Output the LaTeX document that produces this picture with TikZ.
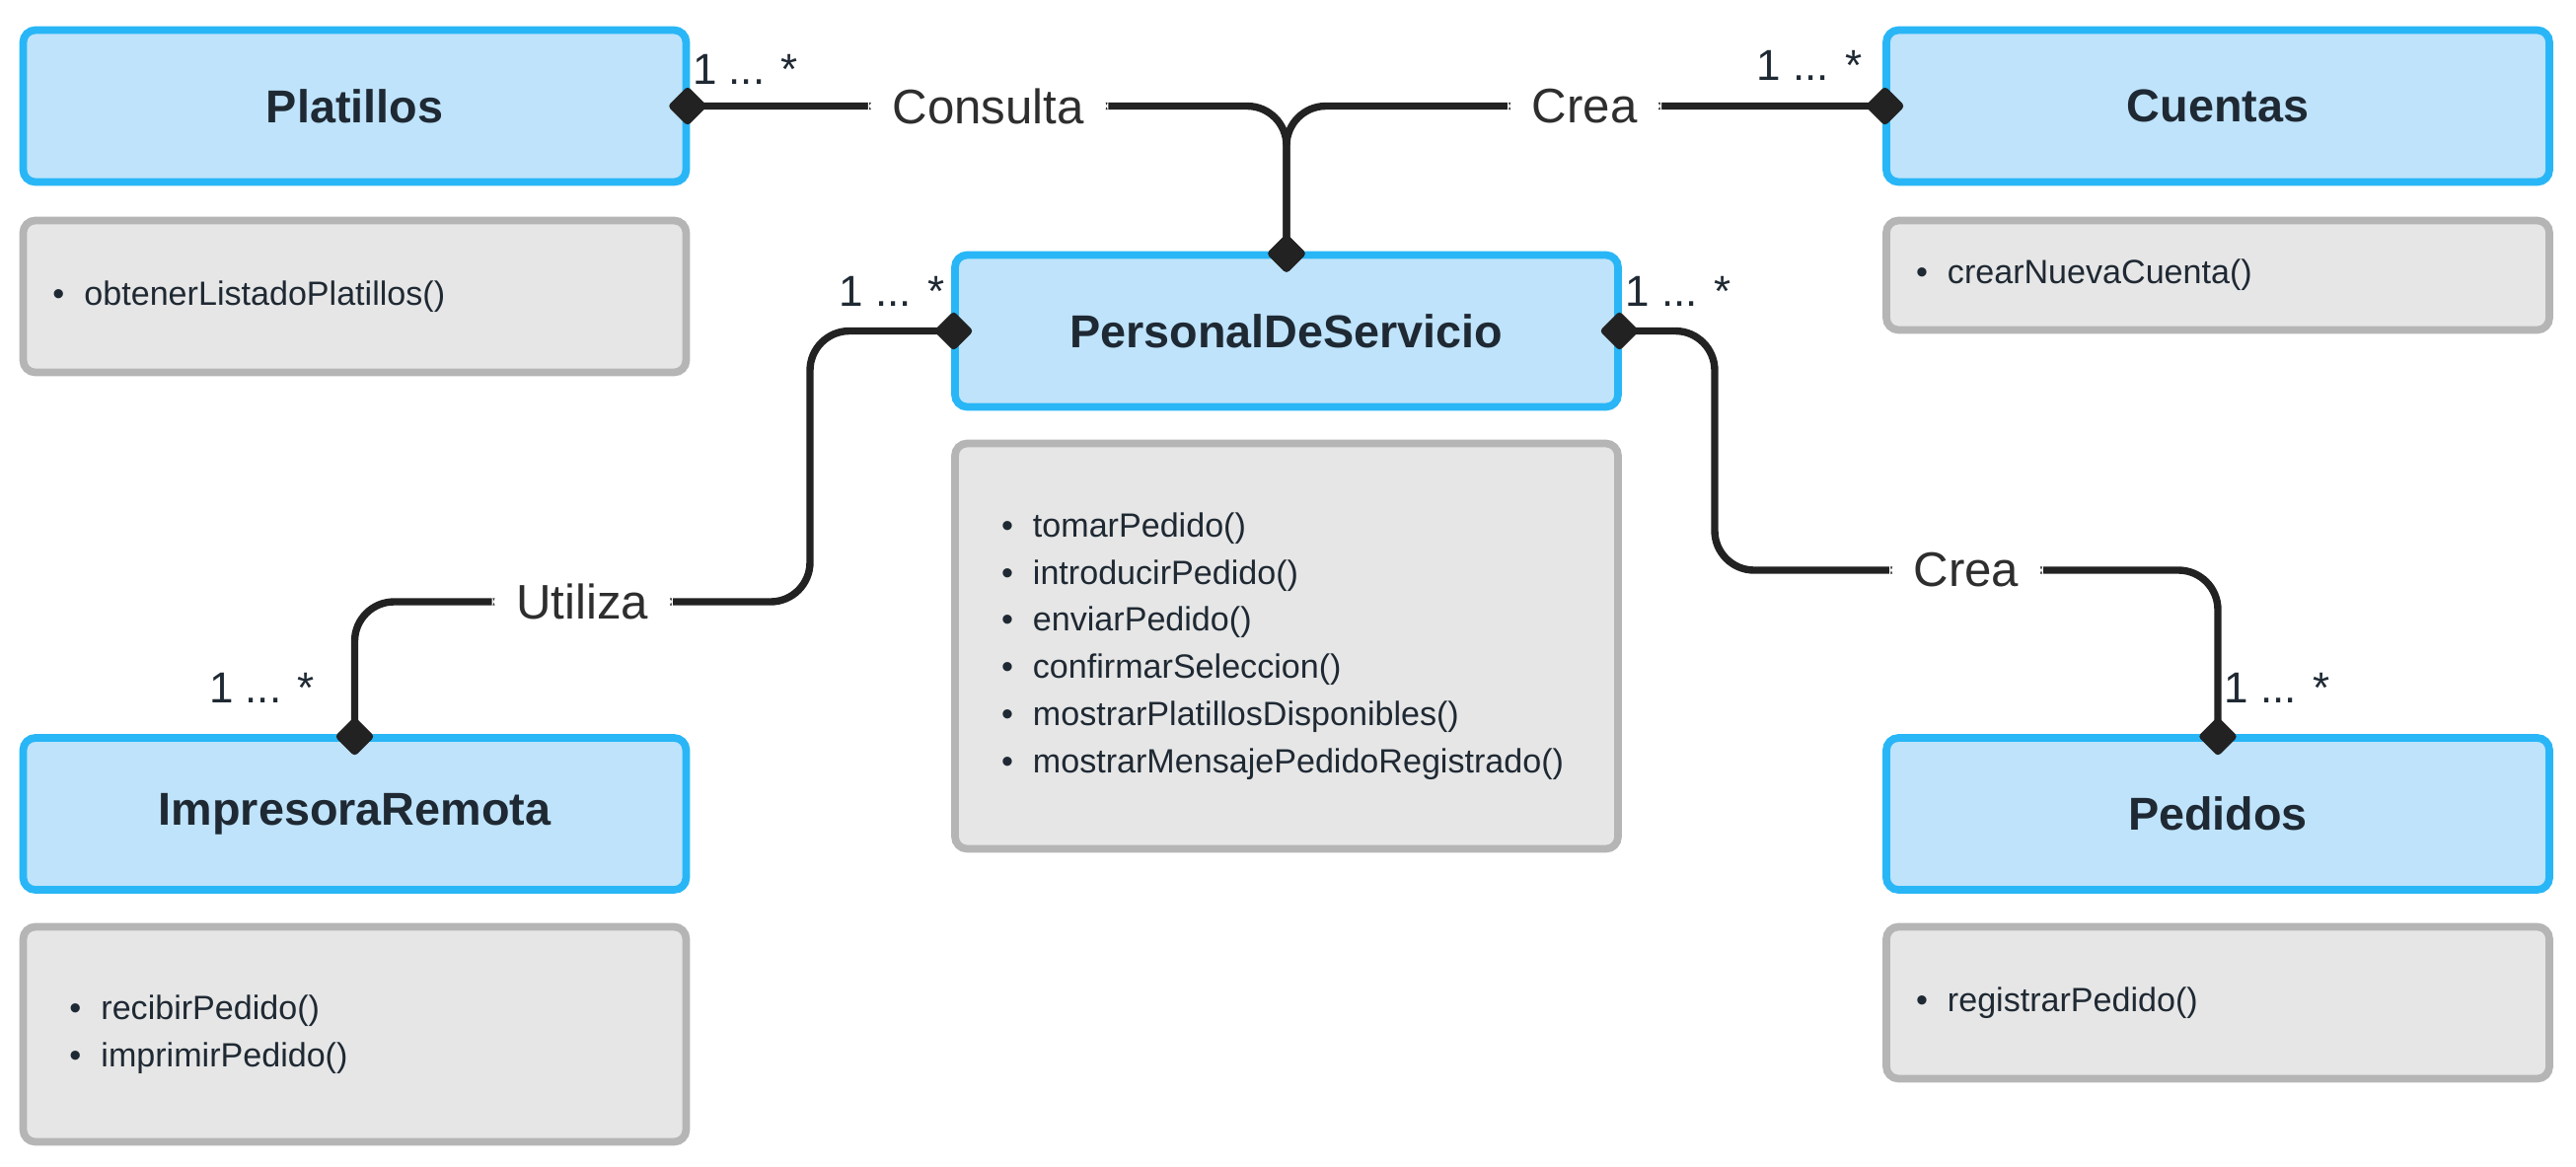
\documentclass[tikz,border=0pt]{standalone}
\usepackage{fontspec}
\setmainfont{Liberation Sans}
\usetikzlibrary{arrows.meta,positioning}

\definecolor{azulfondo}{HTML}{BEE3FB}
\definecolor{azulborde}{HTML}{29B6F6}
\definecolor{grisfondo}{HTML}{E6E6E6}
\definecolor{grisborde}{HTML}{B5B5B5}
\definecolor{tinta}{HTML}{1F2933}
\definecolor{linea}{HTML}{222222}
\definecolor{rotulo}{HTML}{2E2E2E}

\tikzset{
  clase/.style={draw=azulborde, fill=azulfondo, line width=2.2pt, rounded corners=3.5pt,
    minimum width=6.72cm, minimum height=1.54cm, text=tinta,
    font=\fontsize{13.3}{16}\selectfont\bfseries},
  metodos/.style={draw=grisborde, fill=grisfondo, line width=2.2pt, rounded corners=3.5pt,
    minimum width=6.72cm, inner xsep=0.30cm, text width=6.12cm, align=left,
    text=tinta, font=\fontsize{9.7}{13.6}\selectfont},
  varios/.style={inner xsep=0.47cm, text width=5.78cm},
  relacion/.style={draw=linea, line width=2.1pt, rounded corners=4mm,
    {Diamond[round,length=11.5pt,width=11.5pt]}-{Diamond[round,length=11.5pt,width=11.5pt]},
    shorten <=-6pt, shorten >=-6pt},
  etiqueta/.style={fill=white, text=rotulo, font=\fontsize{14}{16}\selectfont,
    inner xsep=7pt, inner ysep=3pt},
  mult/.style={text=tinta, font=\fontsize{12.5}{14}\selectfont, inner sep=0pt}
}
\newcommand{\met}[1]{\textbullet\hspace{5.7pt}#1}

\begin{document}
\begin{tikzpicture}[node distance=2cm,on grid]
    \useasboundingbox (0,0) rectangle (26.11,-11.83);
    % clases
    \node[clase] (pds) at (13.04,-3.355) {PersonalDeServicio};
    \node[clase] (plat) [above left=2.28cm and 9.445cm of pds] {Platillos};
    \node[clase] (cuen) [above right=2.28cm and 9.44cm of pds] {Cuentas};
    \node[clase] (impr) [below left=4.895cm and 9.445cm of pds] {ImpresoraRemota};
    \node[clase] (pedi) [below right=4.895cm and 9.44cm of pds] {Pedidos};
    % metodos
    \node[metodos, minimum height=1.54cm] (plat_m) [below=1.93cm of plat] {\met{obtenerListadoPlatillos()}};
    \node[metodos, minimum height=1.11cm] (cuen_m) [below=1.715cm of cuen] {\met{crearNuevaCuenta()}};
    \node[metodos, varios, minimum height=4.11cm] (pds_m) [below=3.195cm of pds] {%
      \met{tomarPedido()}\\
      \met{introducirPedido()}\\
      \met{enviarPedido()}\\
      \met{confirmarSeleccion()}\\
      \met{mostrarPlatillosDisponibles()}\\
      \met{mostrarMensajePedidoRegistrado()}};
    \node[metodos, varios, minimum height=2.18cm] (impr_m) [below=2.235cm of impr] {%
      \met{recibirPedido()}\\
      \met{imprimirPedido()}};
    \node[metodos, minimum height=1.54cm] (pedi_m) [below=1.915cm of pedi] {\met{registrarPedido()}};
    % relaciones
    \coordinate (u_1) at (8.21,-6.10);
    \coordinate (u_2) at (17.38,-5.78);
    \draw[relacion] (plat.east) -| node[etiqueta, pos=0.25] {Consulta} (pds.north);
    \draw[relacion] (cuen.west) -| node[etiqueta, pos=0.25] {Crea} (pds.north);
    \draw[relacion] (pds.west) -| (u_1) -| node[etiqueta, pos=0.25] {Utiliza} (impr.north);
    \draw[relacion] (pds.east) -| (u_2) -| node[etiqueta, pos=0.25] {Crea} (pedi.north);
    % multiplicidades
    \node[mult, anchor=base west] (m_1) at ([shift={(0.02,0.22)}]plat.east) {1 ... *};
    \node[mult, anchor=base east] (m_2) at ([shift={(-0.2,0.26)}]cuen.west) {1 ... *};
    \node[mult, anchor=base east] (m_3) at ([shift={(-0.06,0.25)}]pds.west) {1 ... *};
    \node[mult, anchor=base west] (m_4) at ([shift={(0.03,0.25)}]pds.east) {1 ... *};
    \node[mult, anchor=base east] (m_5) at ([shift={(-0.4,0.32)}]impr.north) {1 ... *};
    \node[mult, anchor=base west] (m_6) at ([shift={(0.06,0.32)}]pedi.north) {1 ... *};
\end{tikzpicture}
\end{document}
